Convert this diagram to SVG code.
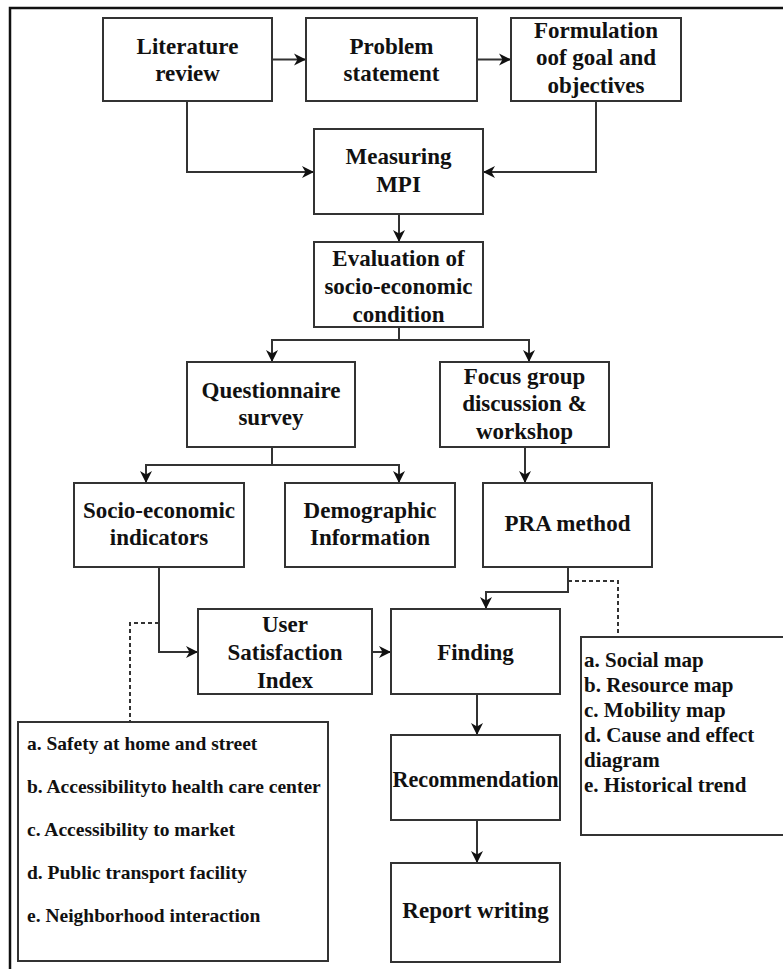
<svg xmlns="http://www.w3.org/2000/svg" width="783" height="969" viewBox="0 0 783 969">
<style>
.box{fill:#fff;stroke:#333;stroke-width:2}
.t{font-family:"Liberation Serif","Times New Roman",serif;font-weight:bold;font-size:23px;fill:#111;text-anchor:middle}
.l{font-family:"Liberation Serif","Times New Roman",serif;font-weight:bold;font-size:19.5px;fill:#111}
.p{font-family:"Liberation Serif","Times New Roman",serif;font-weight:bold;font-size:21px;fill:#111}
.c{fill:none;stroke:#333;stroke-width:2}
.d{fill:none;stroke:#333;stroke-width:2;stroke-dasharray:4 3}
</style>
<defs>
<marker id="ah" viewBox="0 0 12 12" refX="11" refY="6" markerWidth="12" markerHeight="12" markerUnits="userSpaceOnUse" orient="auto" overflow="visible">
<path d="M0,0 L12,6 L0,12 L3.5,6 z" fill="#111"/>
</marker>
</defs>
<rect x="10" y="8" width="790" height="990" fill="#fff" stroke="#111" stroke-width="2.5"/>
<g id="connectors">
<path class="c" d="M272,59.5 H305" marker-end="url(#ah)"/>
<path class="c" d="M477,59.5 H510" marker-end="url(#ah)"/>
<path class="c" d="M187,101 V172 H313" marker-end="url(#ah)"/>
<path class="c" d="M596,101 V172 H484" marker-end="url(#ah)"/>
<path class="c" d="M399,214 V241" marker-end="url(#ah)"/>
<path class="c" d="M399,327 V340 H272 V361" marker-end="url(#ah)"/>
<path class="c" d="M399,340 H529 V361" marker-end="url(#ah)"/>
<path class="c" d="M272,447 V465 H146 V482" marker-end="url(#ah)"/>
<path class="c" d="M272,465 H399 V482" marker-end="url(#ah)"/>
<path class="c" d="M525,447 V482" marker-end="url(#ah)"/>
<path class="c" d="M159,567 V652 H197" marker-end="url(#ah)"/>
<path class="c" d="M372,652 H390" marker-end="url(#ah)"/>
<path class="c" d="M568,567 V592 H486 V608" marker-end="url(#ah)"/>
<path class="c" d="M477,694 V734" marker-end="url(#ah)"/>
<path class="c" d="M477,820 V862" marker-end="url(#ah)"/>
<path class="d" d="M568,581 H618 V637"/>
<path class="d" d="M159,623 H130 V722"/>
</g>
<g id="literature"><rect class="box" x="103" y="18" width="169" height="83"/><text class="t" x="187.5" y="54">Literature</text><text class="t" x="187.5" y="81">review</text></g>
<g id="problem"><rect class="box" x="306" y="18" width="171" height="83"/><text class="t" x="391.5" y="54">Problem</text><text class="t" x="391.5" y="81">statement</text></g>
<g id="formulation"><rect class="box" x="511" y="18" width="170" height="83"/><text class="t" x="596" y="38">Formulation</text><text class="t" x="596" y="65">oof goal and</text><text class="t" x="596" y="93">objectives</text></g>
<g id="mpi"><rect class="box" x="314" y="129" width="169" height="85"/><text class="t" x="398.5" y="164">Measuring</text><text class="t" x="398.5" y="192">MPI</text></g>
<g id="evaluation"><rect class="box" x="314" y="242" width="169" height="85"/><text class="t" x="398.5" y="266">Evaluation of</text><text class="t" x="398.5" y="294">socio-economic</text><text class="t" x="398.5" y="322">condition</text></g>
<g id="questionnaire"><rect class="box" x="187" y="362" width="168" height="85"/><text class="t" x="271" y="398">Questionnaire</text><text class="t" x="271" y="425">survey</text></g>
<g id="focus"><rect class="box" x="440" y="362" width="169" height="85"/><text class="t" x="524.5" y="384">Focus group</text><text class="t" x="524.5" y="411">discussion &amp;</text><text class="t" x="524.5" y="439">workshop</text></g>
<g id="socio"><rect class="box" x="74" y="483" width="170" height="84"/><text class="t" x="159" y="518">Socio-economic</text><text class="t" x="159" y="545">indicators</text></g>
<g id="demographic"><rect class="box" x="285" y="483" width="170" height="84"/><text class="t" x="370" y="518">Demographic</text><text class="t" x="370" y="545">Information</text></g>
<g id="pra"><rect class="box" x="483" y="483" width="169" height="84"/><text class="t" x="567.5" y="531">PRA method</text></g>
<g id="usi"><rect class="box" x="198" y="609" width="174" height="85"/><text class="t" x="285" y="632">User</text><text class="t" x="285" y="660">Satisfaction</text><text class="t" x="285" y="688">Index</text></g>
<g id="finding"><rect class="box" x="391" y="609" width="169" height="85"/><text class="t" x="475.5" y="660">Finding</text></g>
<g id="recommendation"><rect class="box" x="391" y="735" width="169" height="85"/><text class="t" x="475.5" y="787" textLength="166" lengthAdjust="spacingAndGlyphs">Recommendation</text></g>
<g id="report"><rect class="box" x="391" y="863" width="169" height="99"/><text class="t" x="475.5" y="918">Report writing</text></g>
<g id="usi-list"><rect class="box" x="18" y="722" width="310" height="239"/>
<text class="l" x="27" y="750">a. Safety at home and street</text>
<text class="l" x="27" y="793">b. Accessibilityto health care center</text>
<text class="l" x="27" y="836">c. Accessibility to market</text>
<text class="l" x="27" y="879">d. Public transport facility</text>
<text class="l" x="27" y="922">e. Neighborhood interaction</text>
</g>
<g id="pra-list"><rect class="box" x="581" y="637" width="220" height="198"/>
<text class="p" x="584" y="667">a. Social map</text>
<text class="p" x="584" y="692">b. Resource map</text>
<text class="p" x="584" y="717">c. Mobility map</text>
<text class="p" x="584" y="742">d. Cause and effect</text>
<text class="p" x="584" y="767">diagram</text>
<text class="p" x="584" y="792">e. Historical trend</text>
</g>
</svg>
